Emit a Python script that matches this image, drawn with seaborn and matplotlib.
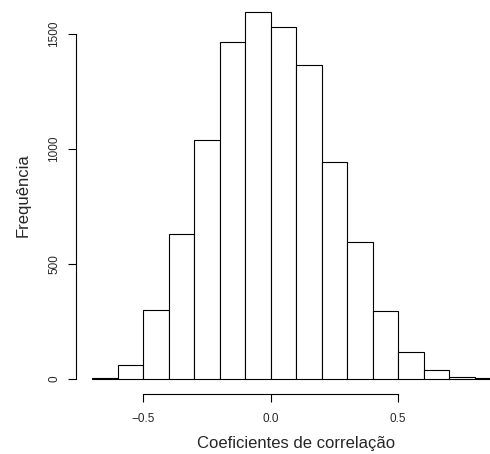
import numpy as np
import matplotlib.pyplot as plt
import seaborn as sns

# bin edges and counts
bin_edges = [-0.7, -0.6, -0.5, -0.4, -0.3, -0.2, -0.1, 0.0, 0.1, 0.2, 0.3, 0.4, 0.5, 0.6, 0.7, 0.8, 0.9]
counts = [3, 61, 300, 628, 1037, 1464, 1595, 1531, 1365, 942, 595, 296, 116, 40, 7, 2]
bin_mids = [(a + b) / 2 for a, b in zip(bin_edges[:-1], bin_edges[1:])]

xticks = [-0.5, 0.0, 0.5]
xtick_labels = ['\u22120.5', '0.0', '0.5']
yticks = [0, 500, 1000, 1500]

sns.set_style('white')
plt.rcParams['font.family'] = ['Liberation Sans', 'DejaVu Sans']

W, H = 490, 454
fig = plt.figure(figsize=(W / 100, H / 100), dpi=100)
# plot region as R lays it out (right side runs past the picture edge)
left_px, bottom_px = 76, 393.5
ax = fig.add_axes([left_px / W, (H - bottom_px) / H, 1 - left_px / W, bottom_px / H])

sns.histplot(x=bin_mids, weights=counts, bins=bin_edges, ax=ax,
             color='white', edgecolor='black', linewidth=0.8, alpha=1)

ax.set_xlim(-0.764, 0.86)
ax.set_ylim(-63.8, 1647)

for s in ['top', 'right']:
    ax.spines[s].set_visible(False)
ax.spines['left'].set_bounds(0, 1500)
ax.spines['bottom'].set_bounds(-0.5, 0.5)
for s in ['left', 'bottom']:
    ax.spines[s].set_linewidth(0.8)
    ax.spines[s].set_color('black')

ax.set_xticks(xticks)
ax.set_xticklabels(xtick_labels)
ax.set_yticks(yticks)
ax.set_yticklabels([str(v) for v in yticks], rotation=90, va='center')
ax.tick_params(axis='both', direction='out', length=5.8, width=0.8, color='black',
               labelsize=8.5, left=True, bottom=True)
ax.tick_params(axis='x', pad=8.5)
ax.tick_params(axis='y', pad=5.5)

ax.set_xlabel('Coeficientes de correlação', fontsize=12)
ax.set_ylabel('Frequência', fontsize=12)
ax.xaxis.set_label_coords(0.531, -0.108)
ax.yaxis.set_label_coords(-0.11, 0.503)

fig.savefig('out.png', dpi=100)
